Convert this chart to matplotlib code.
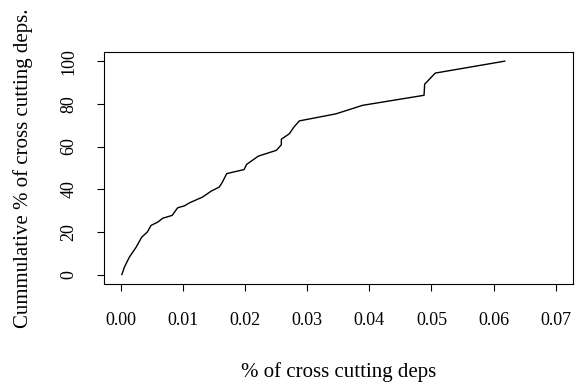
import matplotlib.pyplot as plt

plt.rcParams['font.family'] = ['Liberation Serif', 'DejaVu Serif']

# values
pct_deps = [0.0001, 0.0005, 0.0013, 0.0024, 0.0033, 0.0042, 0.0048, 0.0059, 0.0067,
            0.0082, 0.0091, 0.0102, 0.0110, 0.0131, 0.0145, 0.0158, 0.0163, 0.0170,
            0.0198, 0.0202, 0.0221, 0.0250, 0.0258, 0.0258, 0.0271, 0.0278, 0.0287,
            0.0346, 0.0389, 0.0488, 0.0489, 0.0506, 0.0618]
cum_pct = [0.0, 3.4, 8.1, 12.8, 17.5, 19.9, 23.0, 24.6, 26.4,
           27.7, 31.3, 32.2, 33.6, 36.3, 39.1, 41.0, 43.3, 47.3,
           49.2, 51.6, 55.5, 58.2, 60.8, 63.4, 66.0, 69.0, 72.0,
           75.3, 79.3, 84.0, 89.2, 94.4, 100.0]

x_ticks = [0.00, 0.01, 0.02, 0.03, 0.04, 0.05, 0.06, 0.07]
y_ticks = [0, 20, 40, 60, 80, 100]

fig = plt.figure(figsize=(5.77, 3.85), dpi=100)
ax = fig.add_axes([0.180, 0.262, 0.813, 0.603])

ax.plot(pct_deps, cum_pct, color='black', linewidth=1.0)

ax.set_xlim(-0.0028, 0.0728)
ax.set_ylim(-4.5, 104.3)
ax.set_xticks(x_ticks)
ax.set_xticklabels(['%.2f' % t for t in x_ticks])
ax.set_yticks(y_ticks)
ax.set_yticklabels([str(t) for t in y_ticks], rotation=90, va='center')

ax.tick_params(axis='both', direction='out', length=5, width=0.8, labelsize=13, colors='black')
ax.tick_params(axis='x', pad=15)
ax.tick_params(axis='y', pad=14)
for s in ax.spines.values():
    s.set_linewidth(0.8)

ax.set_xlabel('% of cross cutting deps', fontsize=15, labelpad=24)
ax.set_ylabel('Cummulative % of cross cutting deps.', fontsize=15, labelpad=20)

fig.savefig('out.png', dpi=100)
